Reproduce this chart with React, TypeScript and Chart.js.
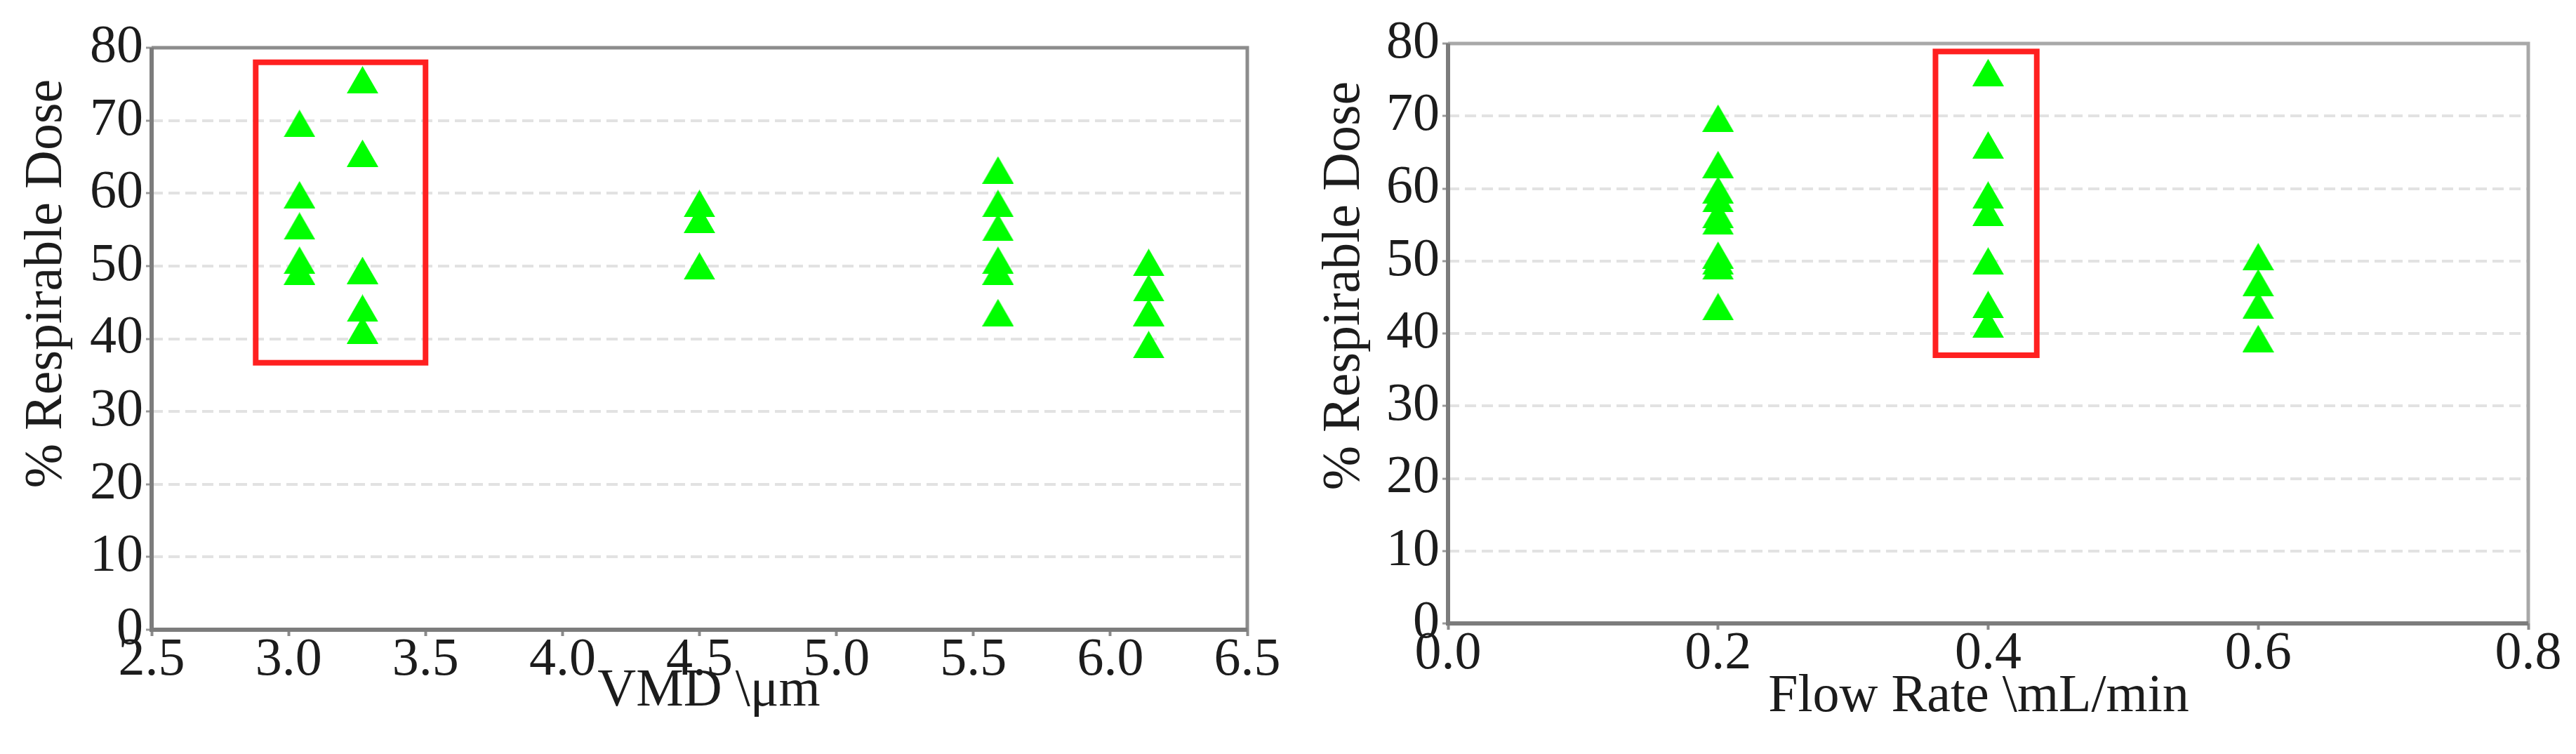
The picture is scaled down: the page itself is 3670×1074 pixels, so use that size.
import React, { useEffect, useRef } from 'react';
import { Chart, registerables } from 'chart.js';

Chart.register(...registerables);

// ---- data ----
const VMD_X = [
  3.04, 3.04, 3.04, 3.04, 3.04,
  3.27, 3.27, 3.27, 3.27, 3.27,
  4.5, 4.5, 4.5,
  5.59, 5.59, 5.59, 5.59, 5.59, 5.59,
  6.14, 6.14, 6.14, 6.14,
];
const VMD_DOSE = [
  69.6, 59.8, 55.5, 50.8, 49.3,
  75.6, 65.5, 49.4, 44.2, 41.2,
  58.6, 56.4, 50.0,
  63.2, 58.6, 55.3, 50.8, 49.3, 43.6,
  50.5, 47.0, 43.6, 39.2,
];
const FLOW_X = [
  0.2, 0.2, 0.2, 0.2, 0.2, 0.2, 0.2, 0.2, 0.2, 0.2,
  0.4, 0.4, 0.4, 0.4, 0.4, 0.4, 0.4,
  0.6, 0.6, 0.6, 0.6,
];
const FLOW_DOSE = [
  69.7, 63.3, 59.8, 58.6, 56.4, 55.5, 50.8, 50.0, 49.3, 43.7,
  76.0, 66.0, 59.1, 56.7, 50.0, 44.0, 41.3,
  50.6, 47.0, 43.9, 39.3,
];
const DOSE_RANGE = [0, 80];
const DOSE_STEP = 10;
const VMD_RANGE = [2.5, 6.5];
const VMD_STEP = 0.5;
const FLOW_RANGE = [0, 0.8];
const FLOW_STEP = 0.2;
const VMD_BOX_X = [2.88, 3.5];
const VMD_BOX_Y = [36.7, 78.0];
const FLOW_BOX_X = [0.361, 0.436];
const FLOW_BOX_Y = [37.0, 78.9];

// ---- style ----
const FONT = '"Liberation Serif", "Times New Roman", serif';
const TEXT = '#1c1c1c';
const TICK_SIZE = 76;
const TITLE_SIZE = 76;
const GREEN = '#00ff00';
const RED = '#ff2020';

function makeTriangle(w: number, h: number, color: string) {
  const c = document.createElement('canvas');
  c.width = w;
  c.height = h;
  const ctx = c.getContext('2d')!;
  ctx.fillStyle = color;
  ctx.beginPath();
  ctx.moveTo(w / 2, 0);
  ctx.lineTo(w, h);
  ctx.lineTo(0, h);
  ctx.closePath();
  ctx.fill();
  return c;
}

type Panel = {
  xs: number[];
  ys: number[];
  xRange: number[];
  xStep: number;
  boxX: number[];
  boxY: number[];
  width: number;
  height: number;
  area: { left: number; top: number; right: number; bottom: number };
  xTitle: string;
  yTitle: string;
  xTitlePos: { x: number; y: number };
  yTitlePos: { x: number; y: number };
  topBorder: string;
};

function buildConfig(p: Panel): any {
  const tri = makeTriangle(45, 39, GREEN);
  const decor = {
    id: 'decor',
    afterDatasetsDraw(chart: any) {
      const ctx = chart.ctx;
      const xs = chart.scales.x;
      const ys = chart.scales.y;
      const a = chart.chartArea;
      ctx.save();
      // frame
      ctx.lineWidth = 5;
      ctx.strokeStyle = p.topBorder;
      ctx.beginPath();
      ctx.moveTo(a.left, a.top);
      ctx.lineTo(a.right, a.top);
      ctx.lineTo(a.right, a.bottom);
      ctx.stroke();
      ctx.lineWidth = 6;
      ctx.strokeStyle = '#7c7c7c';
      ctx.beginPath();
      ctx.moveTo(a.left, a.top);
      ctx.lineTo(a.left, a.bottom);
      ctx.lineTo(a.right, a.bottom);
      ctx.stroke();
      // red box
      const x1 = xs.getPixelForValue(p.boxX[0]);
      const x2 = xs.getPixelForValue(p.boxX[1]);
      const y1 = ys.getPixelForValue(p.boxY[1]);
      const y2 = ys.getPixelForValue(p.boxY[0]);
      ctx.lineWidth = 8;
      ctx.strokeStyle = RED;
      ctx.strokeRect(x1, y1, x2 - x1, y2 - y1);
      ctx.restore();
    },
    afterDraw(chart: any) {
      const ctx = chart.ctx;
      ctx.save();
      ctx.fillStyle = TEXT;
      ctx.font = `${TITLE_SIZE}px ${FONT}`;
      ctx.textAlign = 'center';
      ctx.textBaseline = 'alphabetic';
      ctx.fillText(p.xTitle, p.xTitlePos.x, p.xTitlePos.y);
      ctx.translate(p.yTitlePos.x, p.yTitlePos.y);
      ctx.rotate(-Math.PI / 2);
      ctx.textBaseline = 'middle';
      ctx.fillText(p.yTitle, 0, 0);
      ctx.restore();
    },
  };
  return {
    type: 'scatter',
    data: {
      datasets: [
        {
          data: p.xs.map((x, i) => ({ x, y: p.ys[i] })),
          pointStyle: tri,
          pointRadius: 20,
          backgroundColor: GREEN,
          borderColor: GREEN,
        },
      ],
    },
    options: {
      animation: false,
      responsive: false,
      events: [],
      layout: {
        padding: { left: 0, top: p.area.top, right: p.width - p.area.right, bottom: 0 },
      },
      plugins: { legend: { display: false }, tooltip: { enabled: false } },
      scales: {
        x: {
          type: 'linear',
          min: p.xRange[0],
          max: p.xRange[1],
          afterFit: (s: any) => {
            s.height = p.height - p.area.bottom;
          },
          ticks: {
            stepSize: p.xStep,
            autoSkip: false,
            maxRotation: 0,
            padding: -11,
            color: TEXT,
            font: { family: FONT, size: TICK_SIZE },
            callback: (v: any) => Number(v).toFixed(1),
          },
          grid: {
            drawOnChartArea: false,
            drawTicks: true,
            tickLength: 9,
            tickWidth: 4,
            color: '#8a8a8a',
          },
          border: { display: false },
        },
        y: {
          type: 'linear',
          min: DOSE_RANGE[0],
          max: DOSE_RANGE[1],
          afterFit: (s: any) => {
            s.width = p.area.left;
          },
          ticks: {
            stepSize: DOSE_STEP,
            autoSkip: false,
            padding: 4,
            color: TEXT,
            font: { family: FONT, size: TICK_SIZE },
          },
          grid: {
            color: '#e2e2e2',
            lineWidth: 4,
            tickLength: 8,
            tickColor: '#9a9a9a',
            tickWidth: 3,
          },
          border: { display: false, dash: [16, 8] },
        },
      },
    },
    plugins: [decor],
  };
}

const LEFT: Panel = {
  xs: VMD_X,
  ys: VMD_DOSE,
  xRange: VMD_RANGE,
  xStep: VMD_STEP,
  boxX: VMD_BOX_X,
  boxY: VMD_BOX_Y,
  width: 1830,
  height: 1074,
  area: { left: 216, top: 68, right: 1777, bottom: 897 },
  xTitle: 'VMD \\μm',
  yTitle: '% Respirable Dose',
  xTitlePos: { x: 1010, y: 1005 },
  yTitlePos: { x: 67, y: 404 },
  topBorder: '#8c8c8c',
};

const RIGHT: Panel = {
  xs: FLOW_X,
  ys: FLOW_DOSE,
  xRange: FLOW_RANGE,
  xStep: FLOW_STEP,
  boxX: FLOW_BOX_X,
  boxY: FLOW_BOX_Y,
  width: 1840,
  height: 1074,
  area: { left: 233, top: 62, right: 1772, bottom: 888 },
  xTitle: 'Flow Rate \\mL/min',
  yTitle: '% Respirable Dose',
  xTitlePos: { x: 989, y: 1013 },
  yTitlePos: { x: 86, y: 407 },
  topBorder: '#a8a8a8',
};

function PanelChart({ panel, left }: { panel: Panel; left: number }) {
  const ref = useRef<HTMLCanvasElement | null>(null);
  useEffect(() => {
    if (!ref.current) return;
    const chart = new Chart(ref.current, buildConfig(panel));
    return () => chart.destroy();
  }, [panel]);
  return (
    <canvas
      ref={ref}
      width={panel.width}
      height={panel.height}
      style={{ position: 'absolute', left, top: 0, width: panel.width, height: panel.height }}
    />
  );
}

export default function App() {
  return (
    <div
      style={{
        position: 'fixed',
        left: 0,
        top: 0,
        width: 3670,
        height: 1074,
        background: '#ffffff',
        overflow: 'hidden',
      }}
    >
      <PanelChart panel={LEFT} left={0} />
      <PanelChart panel={RIGHT} left={1830} />
    </div>
  );
}
